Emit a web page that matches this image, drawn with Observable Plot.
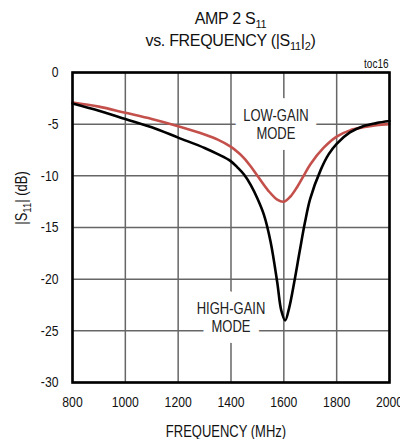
<!DOCTYPE html>
<html>
<head>
<meta charset="utf-8">
<script src="https://cdn.jsdelivr.net/npm/d3@7"></script>
<script src="https://cdn.jsdelivr.net/npm/@observablehq/plot@0.6"></script>
<style>
  html, body { margin: 0; padding: 0; background: #fff; }
  #wrap { width: 400px; height: 439px; position: relative; overflow: hidden; font-family: "Liberation Sans", Arial, sans-serif; color: #111; }
  #title { margin-left: 72px; width: 317px; height: 60px; box-sizing: border-box; padding-top: 9px; text-align: center; font-size: 16px; line-height: 20.5px; letter-spacing: -0.3px; }
  .sub { font-size: 11px; position: relative; top: 4px; letter-spacing: -0.3px; }
  svg { display: block; }
</style>
</head>
<body>
<div id="wrap">
  <div id="title">AMP 2 S<span class="sub">11</span><br>vs. FREQUENCY (|S<span class="sub">11</span>|<span class="sub">2</span>)</div>
  <div id="chart"></div>
</div>
<script>
// Low-gain mode (red)
const freqLow = [800, 900, 1000, 1100, 1200, 1300, 1350, 1400, 1425, 1450, 1475, 1500, 1540, 1575, 1600, 1625, 1650, 1675, 1700, 1750, 1800, 1850, 1900, 1950, 2000];
const s11Low  = [-2.9, -3.3, -3.9, -4.5, -5.2, -6.0, -6.5, -7.2, -7.7, -8.3, -9.1, -10.0, -11.4, -12.3, -12.5, -12.0, -11.1, -10.0, -8.9, -7.3, -6.2, -5.6, -5.3, -5.1, -5.0];
// High-gain mode (black)
const freqHigh = [800, 900, 1000, 1100, 1200, 1300, 1350, 1400, 1425, 1450, 1475, 1500, 1525, 1550, 1575, 1590, 1605, 1620, 1640, 1660, 1680, 1700, 1740, 1770, 1800, 1850, 1900, 1950, 2000];
const s11High  = [-3.0, -3.7, -4.5, -5.3, -6.3, -7.3, -7.9, -8.6, -9.2, -9.9, -10.9, -12.2, -13.8, -16.4, -20.3, -23.0, -24.0, -22.8, -20.2, -17.3, -14.5, -12.2, -9.4, -7.9, -6.9, -5.8, -5.2, -4.9, -4.7];

const xTicks = [800, 1000, 1200, 1400, 1600, 1800, 2000];
const yTicks = [0, -5, -10, -15, -20, -25, -30];

const labels = [
  {f: 1570, v: -5.0, text: "LOW-GAIN\nMODE"},
  {f: 1400, v: -23.7, text: "HIGH-GAIN\nMODE"}
];

const low = freqLow.map((f, i) => ({f, v: s11Low[i]}));
const high = freqHigh.map((f, i) => ({f, v: s11High[i]}));

// The reference uses a condensed face; emulate it by squeezing each SVG text horizontally
const K = 0.82;
const FONT = "'Liberation Sans', Arial, sans-serif";
const fs = {tick: 12.2 / K, label: 13 / K, ann: 13 / K, toc: 10 / K, ylab: 13 / K, ysub: 9.5 / K, lh: 1.13};

const plot = Plot.plot({
  width: 400,
  height: 379,
  marginTop: 12,
  marginBottom: 57,
  marginLeft: 72,
  marginRight: 11,
  style: {fontFamily: FONT, fontSize: fs.tick + "px", color: "#111", background: "white", overflow: "visible"},
  x: {domain: [800, 2000]},
  y: {domain: [-30, 0]},
  marks: [
    Plot.gridX(xTicks, {stroke: "#666", strokeOpacity: 1, strokeWidth: 1.5}),
    Plot.gridY(yTicks, {stroke: "#666", strokeOpacity: 1, strokeWidth: 1.5}),
    // white knock-out behind the annotations
    Plot.text(labels, {x: "f", y: "v", text: "text", fontSize: fs.ann, lineHeight: fs.lh, fill: "white", stroke: "white", strokeWidth: 22, strokeLinejoin: "round"}),
    Plot.text(labels, {x: "f", y: "v", text: "text", fontSize: fs.ann, lineHeight: fs.lh, fill: "#222"}),
    Plot.line(low, {x: "f", y: "v", stroke: "#c4504c", strokeWidth: 2.6, curve: "catmull-rom"}),
    Plot.line(high, {x: "f", y: "v", stroke: "#000", strokeWidth: 2.6, curve: "catmull-rom"}),
    Plot.frame({stroke: "#000", strokeWidth: 2.6}),
    Plot.axisX(xTicks, {tickSize: 0, tickPadding: 14, tickFormat: d => String(d), label: null, fontSize: fs.tick}),
    Plot.axisY(yTicks, {tickSize: 0, tickPadding: 14, tickFormat: d => String(d), label: null, fontSize: fs.tick}),
    Plot.text(["FREQUENCY (MHz)"], {frameAnchor: "bottom", dx: -5, dy: 49, lineAnchor: "middle", fontSize: fs.label, fill: "#111"}),
    Plot.text(["toc16"], {frameAnchor: "top-right", dx: -1, dy: -5, lineAnchor: "bottom", textAnchor: "end", fontSize: fs.toc, fill: "#111"})
  ]
});

document.getElementById("chart").appendChild(plot);

// Y-axis label with subscript, rotated
const yScale = plot.scale("y");
const yMid = (yScale.range[0] + yScale.range[1]) / 2 - 29;
const svg = d3.select(plot);
const t = svg.append("text")
  .attr("transform", `translate(27,${yMid}) rotate(-90)`)
  .attr("text-anchor", "middle")
  .attr("font-family", FONT)
  .attr("font-size", fs.ylab)
  .attr("fill", "#111");
t.append("tspan").text("|S");
t.append("tspan").attr("font-size", fs.ysub).attr("dy", 3.5).text("11");
t.append("tspan").attr("dy", -3.5).text("| (dB)");

// squeeze every text about its anchor
svg.selectAll("text").each(function() {
  const tr = this.getAttribute("transform") || "";
  this.setAttribute("transform", (tr + ` scale(${K},1)`).trim());
});
</script>
</body>
</html>
